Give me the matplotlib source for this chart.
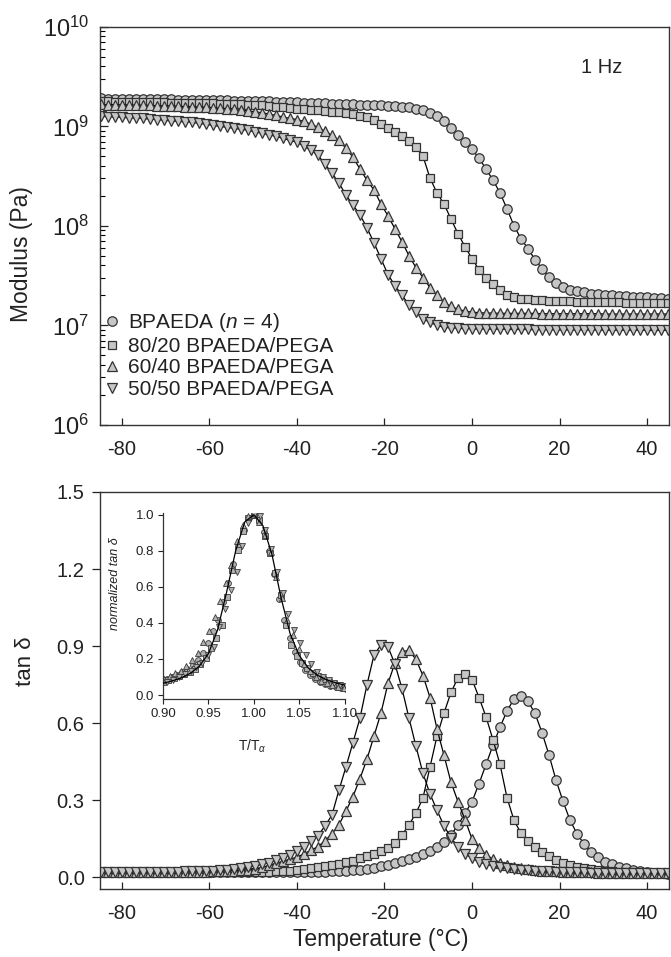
import numpy as np
import matplotlib
matplotlib.use("Agg")
import matplotlib.pyplot as plt
from matplotlib.ticker import LogLocator, NullFormatter

plt.rcParams['font.family'] = ['Liberation Sans', 'DejaVu Sans']
plt.rcParams['mathtext.fontset'] = 'custom'
plt.rcParams['mathtext.rm'] = 'Liberation Sans'
plt.rcParams['mathtext.it'] = 'Liberation Sans:italic'
plt.rcParams['mathtext.bf'] = 'Liberation Sans:bold'
plt.rcParams['axes.unicode_minus'] = False

# temperature of every sample (deg C), shared by all four films
temp = [-84.8, -83.2, -81.6, -80.0, -78.4, -76.8, -75.2, -73.6, -72.0, -70.4,
        -68.8, -67.2, -65.6, -64.0, -62.4, -60.8, -59.2, -57.6, -56.0, -54.4,
        -52.8, -51.2, -49.6, -48.0, -46.4, -44.8, -43.2, -41.6, -40.0, -38.4,
        -36.8, -35.2, -33.6, -32.0, -30.4, -28.8, -27.2, -25.6, -24.0, -22.4,
        -20.8, -19.2, -17.6, -16.0, -14.4, -12.8, -11.2, -9.6, -8.0, -6.4,
        -4.8, -3.2, -1.6, 0.0, 1.6, 3.2, 4.8, 6.4, 8.0, 9.6,
        11.2, 12.8, 14.4, 16.0, 17.6, 19.2, 20.8, 22.4, 24.0, 25.6,
        27.2, 28.8, 30.4, 32.0, 33.6, 35.2, 36.8, 38.4, 40.0, 41.6,
        43.2, 44.8]

# storage modulus (Pa)
mod_100 = [1.91e9, 1.90e9, 1.90e9, 1.89e9, 1.89e9, 1.88e9, 1.88e9, 1.87e9, 1.87e9, 1.86e9,
           1.86e9, 1.85e9, 1.85e9, 1.84e9, 1.84e9, 1.83e9, 1.83e9, 1.82e9, 1.82e9, 1.81e9,
           1.80e9, 1.80e9, 1.79e9, 1.78e9, 1.78e9, 1.77e9, 1.76e9, 1.75e9, 1.74e9, 1.73e9,
           1.72e9, 1.71e9, 1.70e9, 1.69e9, 1.68e9, 1.67e9, 1.66e9, 1.65e9, 1.64e9, 1.63e9,
           1.62e9, 1.61e9, 1.60e9, 1.58e9, 1.55e9, 1.51e9, 1.45e9, 1.37e9, 1.27e9, 1.13e9,
           9.55e8, 8.13e8, 6.92e8, 5.89e8, 4.79e8, 3.72e8, 2.88e8, 2.14e8, 1.48e8, 1.00e8,
           7.41e7, 5.89e7, 4.57e7, 3.72e7, 3.09e7, 2.69e7, 2.45e7, 2.29e7, 2.19e7, 2.14e7,
           2.09e7, 2.06e7, 2.03e7, 2.01e7, 1.99e7, 1.97e7, 1.95e7, 1.93e7, 1.92e7, 1.90e7,
           1.88e7, 1.86e7]
mod_80 = [1.78e9, 1.78e9, 1.77e9, 1.77e9, 1.76e9, 1.76e9, 1.75e9, 1.75e9, 1.74e9, 1.74e9,
          1.73e9, 1.73e9, 1.72e9, 1.72e9, 1.71e9, 1.70e9, 1.70e9, 1.69e9, 1.68e9, 1.67e9,
          1.66e9, 1.65e9, 1.63e9, 1.62e9, 1.60e9, 1.58e9, 1.56e9, 1.54e9, 1.51e9, 1.49e9,
          1.47e9, 1.45e9, 1.42e9, 1.40e9, 1.38e9, 1.35e9, 1.32e9, 1.28e9, 1.23e9, 1.15e9,
          1.05e9, 9.55e8, 8.71e8, 7.94e8, 7.08e8, 6.17e8, 5.01e8, 3.02e8, 2.14e8, 1.66e8,
          1.17e8, 8.32e7, 6.17e7, 4.68e7, 3.63e7, 3.02e7, 2.63e7, 2.29e7, 2.04e7, 1.95e7,
          1.86e7, 1.82e7, 1.80e7, 1.78e7, 1.77e7, 1.76e7, 1.75e7, 1.74e7, 1.73e7, 1.72e7,
          1.72e7, 1.71e7, 1.71e7, 1.70e7, 1.70e7, 1.69e7, 1.69e7, 1.68e7, 1.68e7, 1.67e7,
          1.67e7, 1.66e7]
mod_60 = [1.66e9, 1.65e9, 1.65e9, 1.64e9, 1.64e9, 1.63e9, 1.63e9, 1.62e9, 1.61e9, 1.60e9,
          1.60e9, 1.59e9, 1.58e9, 1.57e9, 1.56e9, 1.55e9, 1.53e9, 1.52e9, 1.50e9, 1.48e9,
          1.45e9, 1.43e9, 1.40e9, 1.37e9, 1.33e9, 1.29e9, 1.24e9, 1.20e9, 1.17e9, 1.12e9,
          1.05e9, 9.77e8, 8.91e8, 8.13e8, 7.24e8, 6.03e8, 4.90e8, 3.72e8, 2.88e8, 2.29e8,
          1.66e8, 1.26e8, 9.33e7, 6.92e7, 5.01e7, 3.80e7, 3.02e7, 2.40e7, 2.00e7, 1.70e7,
          1.55e7, 1.45e7, 1.39e7, 1.36e7, 1.34e7, 1.33e7, 1.33e7, 1.32e7, 1.32e7, 1.32e7,
          1.32e7, 1.32e7, 1.32e7, 1.31e7, 1.31e7, 1.31e7, 1.31e7, 1.31e7, 1.31e7, 1.31e7,
          1.31e7, 1.31e7, 1.30e7, 1.30e7, 1.30e7, 1.30e7, 1.30e7, 1.30e7, 1.30e7, 1.30e7,
          1.30e7, 1.30e7]
mod_50 = [1.26e9, 1.25e9, 1.24e9, 1.23e9, 1.22e9, 1.21e9, 1.20e9, 1.18e9, 1.17e9, 1.15e9,
          1.135e9, 1.12e9, 1.11e9, 1.10e9, 1.07e9, 1.05e9, 1.02e9, 1.00e9, 9.77e8, 9.55e8,
          9.33e8, 9.12e8, 8.81e8, 8.51e8, 8.22e8, 7.94e8, 7.59e8, 7.24e8, 6.92e8, 6.31e8,
          5.75e8, 5.13e8, 4.17e8, 3.39e8, 2.69e8, 2.04e8, 1.62e8, 1.29e8, 9.55e7, 6.76e7,
          4.68e7, 3.24e7, 2.51e7, 2.00e7, 1.62e7, 1.35e7, 1.17e7, 1.07e7, 1.00e7, 9.55e6,
          9.45e6, 9.35e6, 9.30e6, 9.25e6, 9.20e6, 9.20e6, 9.15e6, 9.15e6, 9.10e6, 9.10e6,
          9.10e6, 9.10e6, 9.05e6, 9.05e6, 9.05e6, 9.05e6, 9.00e6, 9.00e6, 9.00e6, 9.00e6,
          9.00e6, 9.00e6, 8.95e6, 8.95e6, 8.95e6, 8.95e6, 8.95e6, 8.95e6, 8.90e6, 8.90e6,
          8.90e6, 8.90e6]

# loss tangent
tan_100 = [0.021, 0.021, 0.021, 0.021, 0.021, 0.021, 0.021, 0.021, 0.021, 0.021,
           0.021, 0.021, 0.021, 0.021, 0.021, 0.021, 0.021, 0.021, 0.021, 0.021,
           0.021, 0.021, 0.021, 0.021, 0.021, 0.021, 0.021, 0.021, 0.021, 0.021,
           0.021, 0.022, 0.023, 0.024, 0.025, 0.027, 0.028, 0.030, 0.033, 0.037,
           0.043, 0.050, 0.057, 0.064, 0.072, 0.080, 0.090, 0.103, 0.118, 0.138,
           0.166, 0.204, 0.250, 0.295, 0.365, 0.440, 0.515, 0.585, 0.648, 0.695,
           0.707, 0.685, 0.638, 0.563, 0.476, 0.378, 0.296, 0.222, 0.170, 0.130,
           0.100, 0.078, 0.062, 0.051, 0.042, 0.035, 0.030, 0.026, 0.022, 0.019,
           0.017, 0.015]
tan_80 = [0.020, 0.020, 0.020, 0.020, 0.020, 0.020, 0.020, 0.020, 0.020, 0.020,
          0.020, 0.020, 0.020, 0.020, 0.020, 0.020, 0.020, 0.020, 0.020, 0.020,
          0.020, 0.021, 0.021, 0.022, 0.023, 0.024, 0.025, 0.027, 0.029, 0.032,
          0.035, 0.039, 0.043, 0.048, 0.053, 0.059, 0.066, 0.074, 0.083, 0.092,
          0.102, 0.114, 0.135, 0.165, 0.205, 0.250, 0.310, 0.430, 0.550, 0.640,
          0.720, 0.777, 0.793, 0.770, 0.700, 0.625, 0.535, 0.440, 0.310, 0.222,
          0.172, 0.142, 0.118, 0.099, 0.083, 0.069, 0.058, 0.049, 0.042, 0.036,
          0.032, 0.029, 0.026, 0.024, 0.022, 0.021, 0.020, 0.019, 0.018, 0.018,
          0.017, 0.017]
tan_60 = [0.022, 0.022, 0.022, 0.022, 0.022, 0.022, 0.022, 0.022, 0.022, 0.022,
          0.022, 0.022, 0.022, 0.022, 0.023, 0.023, 0.024, 0.025, 0.026, 0.027,
          0.028, 0.030, 0.034, 0.039, 0.047, 0.055, 0.063, 0.071, 0.079, 0.092,
          0.106, 0.120, 0.143, 0.170, 0.205, 0.258, 0.315, 0.385, 0.460, 0.550,
          0.640, 0.755, 0.835, 0.878, 0.884, 0.848, 0.785, 0.700, 0.578, 0.475,
          0.370, 0.295, 0.225, 0.150, 0.116, 0.089, 0.071, 0.058, 0.048, 0.041,
          0.036, 0.032, 0.029, 0.027, 0.025, 0.024, 0.023, 0.022, 0.021, 0.020,
          0.020, 0.019, 0.019, 0.018, 0.018, 0.018, 0.017, 0.017, 0.017, 0.016,
          0.016, 0.016]
tan_50 = [0.023, 0.023, 0.023, 0.023, 0.023, 0.023, 0.023, 0.023, 0.023, 0.023,
          0.023, 0.023, 0.024, 0.024, 0.025, 0.026, 0.027, 0.029, 0.031, 0.033,
          0.036, 0.040, 0.045, 0.051, 0.058, 0.067, 0.077, 0.089, 0.103, 0.120,
          0.141, 0.163, 0.200, 0.243, 0.340, 0.430, 0.525, 0.620, 0.750, 0.865,
          0.905, 0.897, 0.830, 0.735, 0.620, 0.510, 0.405, 0.325, 0.262, 0.200,
          0.155, 0.118, 0.092, 0.074, 0.061, 0.052, 0.045, 0.040, 0.036, 0.032,
          0.030, 0.028, 0.026, 0.025, 0.024, 0.023, 0.022, 0.021, 0.020, 0.020,
          0.019, 0.019, 0.018, 0.018, 0.018, 0.017, 0.017, 0.017, 0.016, 0.016,
          0.016, 0.016]

# master curve drawn through the normalized data in the inset
master_x = [0.90, 0.91, 0.92, 0.93, 0.94, 0.95, 0.96, 0.97, 0.98, 0.99, 1.00,
            1.01, 1.02, 1.03, 1.04, 1.05, 1.06, 1.07, 1.08, 1.09, 1.10]
master_y = [0.065, 0.078, 0.095, 0.12, 0.16, 0.23, 0.36, 0.57, 0.80, 0.96, 1.00,
            0.94, 0.78, 0.54, 0.34, 0.22, 0.15, 0.11, 0.085, 0.068, 0.055]

labels = ['BPAEDA ($n$ = 4)', '80/20 BPAEDA/PEGA', '60/40 BPAEDA/PEGA', '50/50 BPAEDA/PEGA']
markers = ['o', 's', '^', 'v']
msizes = [6.8, 6.2, 7.2, 7.2]
mods = [mod_100, mod_80, mod_60, mod_50]
tans = [tan_100, tan_80, tan_60, tan_50]

face = '#c6c6c6'
edge = '#333333'
ink = '#222222'

fig = plt.figure(figsize=(6.71, 9.57), dpi=100)
ax1 = fig.add_axes([0.149, 0.556, 0.848, 0.416])
ax2 = fig.add_axes([0.149, 0.071, 0.848, 0.415])
axin = fig.add_axes([0.243, 0.270, 0.2705, 0.194])

T = np.array(temp)
for mod, tan, mk, ms, lab in zip(mods, tans, markers, msizes, labels):
    ax1.plot(T, mod, color='black', lw=0.9)
    ax1.plot(T, mod, ls='none', marker=mk, ms=ms, mfc=face, mec=edge, mew=0.9, label=lab)
    ax2.plot(T, tan, color='black', lw=0.9)
    ax2.plot(T, tan, ls='none', marker=mk, ms=ms, mfc=face, mec=edge, mew=0.9)

    # inset: T/T_alpha (in K) against tan delta / peak
    tan = np.array(tan)
    i_pk = int(np.argmax(tan))
    x_norm = (T + 273.15) / (T[i_pk] + 273.15)
    axin.plot(x_norm, tan / tan[i_pk], ls='none', marker=mk, ms=4.2,
              mfc='#b0b0b0', mec='#3a3a3a', mew=0.6)
axin.plot(master_x, master_y, color='black', lw=0.9, zorder=5)

# top panel
ax1.set_yscale('log')
ax1.set_xlim(-85, 45)
ax1.set_ylim(1e6, 1e10)
ax1.set_xticks([-80, -60, -40, -20, 0, 20, 40])
ax1.yaxis.set_major_locator(LogLocator(base=10, numticks=10))
ax1.yaxis.set_minor_locator(LogLocator(base=10, subs=np.arange(2, 10), numticks=20))
ax1.yaxis.set_minor_formatter(NullFormatter())
ax1.tick_params(axis='y', which='major', direction='in', length=6, width=0.9, pad=8,
                labelsize=17, colors=ink)
ax1.tick_params(axis='y', which='minor', direction='in', length=3.5, width=0.8)
ax1.tick_params(axis='x', direction='in', length=5, width=0.9, pad=11,
                labelsize=14.5, colors=ink)
ax1.set_ylabel('Modulus (Pa)', fontsize=16.5, color=ink)
ax1.yaxis.set_label_coords(-0.118, 0.43)
ax1.text(0.881, 0.897, '1 Hz', transform=ax1.transAxes, fontsize=14.5,
         color=ink, ha='center', va='center')
leg = ax1.legend(loc='lower left', bbox_to_anchor=(0.0, 0.055), frameon=False,
                 fontsize=15, handlelength=0.8, handletextpad=0.35,
                 labelspacing=0.12, borderpad=0.2, borderaxespad=0.0)
for t in leg.get_texts():
    t.set_color(ink)

# bottom panel
ax2.set_xlim(-85, 45)
ax2.set_ylim(-0.045, 1.5)
ax2.set_xticks([-80, -60, -40, -20, 0, 20, 40])
ax2.set_yticks([0.0, 0.3, 0.6, 0.9, 1.2, 1.5])
ax2.set_yticklabels(['0.0', '0.3', '0.6', '0.9', '1.2', '1.5'])
ax2.tick_params(axis='y', direction='out', length=6, width=0.9, pad=5,
                labelsize=14.5, colors=ink)
ax2.tick_params(axis='x', direction='in', length=5, width=0.9, pad=11,
                labelsize=14.5, colors=ink)
ax2.set_ylabel('tan δ', fontsize=16, color=ink)
ax2.yaxis.set_label_coords(-0.112, 0.573)
ax2.set_xlabel('Temperature (°C)', fontsize=16.5, color=ink)
ax2.xaxis.set_label_coords(0.494, -0.097)

# inset
axin.set_xlim(0.90, 1.10)
axin.set_ylim(-0.02, 1.01)
axin.set_xticks([0.90, 0.95, 1.00, 1.05, 1.10])
axin.set_xticklabels(['0.90', '0.95', '1.00', '1.05', '1.10'])
axin.set_yticks([0.0, 0.2, 0.4, 0.6, 0.8, 1.0])
axin.set_yticklabels(['0.0', '0.2', '0.4', '0.6', '0.8', '1.0'])
axin.tick_params(direction='out', length=3.5, width=0.8, pad=3,
                 labelsize=9.5, colors=ink)
for s in ['top', 'right']:
    axin.spines[s].set_visible(False)
for s in ['left', 'bottom']:
    axin.spines[s].set_color('#333333')
    axin.spines[s].set_linewidth(0.9)
axin.patch.set_alpha(0.0)
axin.set_ylabel('normalized tan δ', fontsize=9, style='italic', color=ink)
axin.yaxis.set_label_coords(-0.23, 0.62)
axin.set_xlabel('T/T$_\\alpha$', fontsize=10, color=ink)
axin.xaxis.set_label_coords(0.49, -0.21)

for ax in (ax1, ax2):
    for s in ax.spines.values():
        s.set_color('#333333')
        s.set_linewidth(1.0)

fig.savefig('out.png', dpi=100)
